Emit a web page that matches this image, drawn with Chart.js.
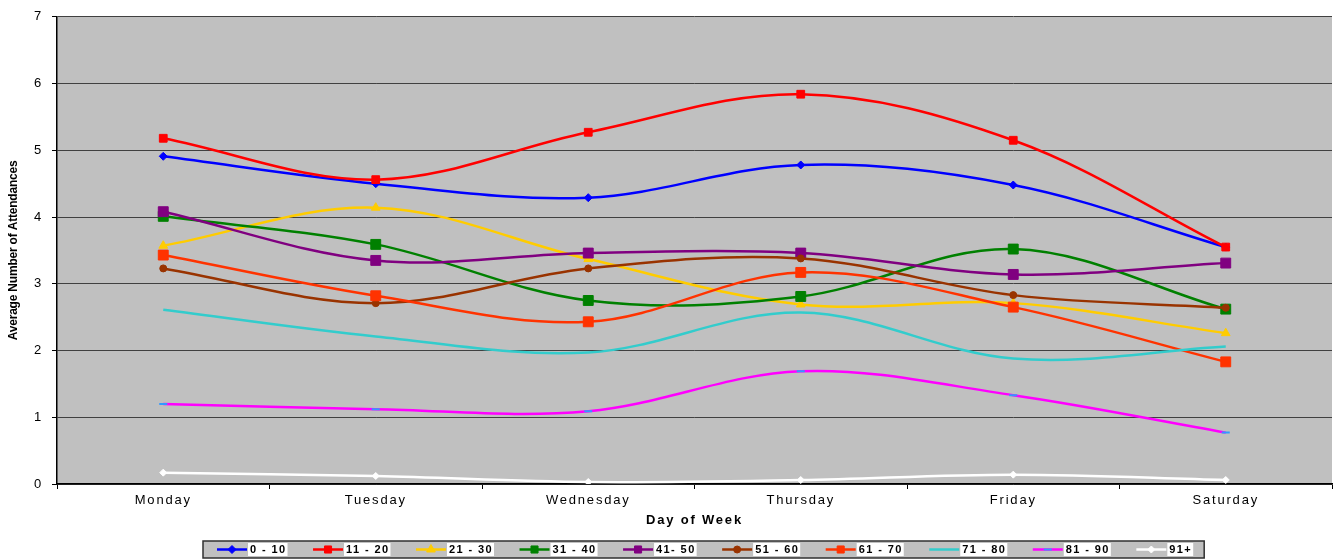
<!DOCTYPE html>
<html lang="en">
<head>
    <meta charset="UTF-8">
    <title>Average Number of Attendances by Day of Week</title>
    <script src="https://cdn.jsdelivr.net/npm/chart.js"></script>
    <style>
        body { margin: 0; background: #fff; }
        canvas { display: block; }
    </style>
</head>
<body>
    <canvas id="attendChart" width="1333" height="559"></canvas>

    <script>
        // Data
        const days = ['Monday', 'Tuesday', 'Wednesday', 'Thursday', 'Friday', 'Saturday'];
        const seriesLabels = ['0 - 10', '11 - 20', '21 - 30', '31 - 40', '41- 50', '51 - 60', '61 - 70', '71 - 80', '81 - 90', '91+'];

        const age0to10  = [4.91, 4.50, 4.29, 4.78, 4.48, 3.55];
        const age11to20 = [5.18, 4.56, 5.27, 5.84, 5.15, 3.55];
        const age21to30 = [3.57, 4.14, 3.37, 2.69, 2.71, 2.26];
        const age31to40 = [4.01, 3.59, 2.75, 2.81, 3.52, 2.62];
        const age41to50 = [4.08, 3.35, 3.46, 3.46, 3.14, 3.31];
        const age51to60 = [3.23, 2.71, 3.23, 3.38, 2.83, 2.64];
        const age61to70 = [3.43, 2.82, 2.43, 3.17, 2.65, 1.83];
        const age71to80 = [2.61, 2.21, 1.97, 2.57, 1.88, 2.06];
        const age81to90 = [1.20, 1.12, 1.09, 1.69, 1.33, 0.77];
        const age91plus = [0.17, 0.12, 0.03, 0.06, 0.14, 0.06];

        const yTicks = [0, 1, 2, 3, 4, 5, 6, 7];

        const seriesValues = [age0to10, age11to20, age21to30, age31to40, age41to50,
                              age51to60, age61to70, age71to80, age81to90, age91plus];

        // look of each series (line colour, marker)
        const looks = [
            { color: '#0000FF', point: 'rectRot',  radius: 4,   fill: '#0000FF', edge: '#0000FF' },
            { color: '#FF0000', point: 'rect',     radius: 5.5, fill: '#FF0000', edge: '#FF0000' },
            { color: '#FFCC00', point: 'triangle', radius: 5,   fill: '#FFCC00', edge: '#FFCC00' },
            { color: '#008000', point: 'rect',     radius: 7,   fill: '#008000', edge: '#008000' },
            { color: '#800080', point: 'rect',     radius: 7,   fill: '#800080', edge: '#800080' },
            { color: '#993300', point: 'circle',   radius: 3.5, fill: '#993300', edge: '#993300' },
            { color: '#FF3300', point: 'rect',     radius: 7,   fill: '#FF3300', edge: '#FF3300' },
            { color: '#33CCCC', point: 'circle',   radius: 0,   fill: '#33CCCC', edge: '#33CCCC' },
            { color: '#FF00FF', point: 'line',     radius: 4,   fill: '#3399FF', edge: '#3399FF' },
            { color: '#FFFFFF', point: 'rectRot',  radius: 3.5, fill: '#FFFFFF', edge: '#FFFFFF' }
        ];

        const FONT = "'Liberation Sans', Arial, sans-serif";

        const datasets = seriesLabels.map((label, i) => ({
            label: label,
            data: seriesValues[i],
            borderColor: looks[i].color,
            borderWidth: 2.5,
            backgroundColor: looks[i].fill,
            pointStyle: looks[i].point,
            pointRadius: looks[i].radius,
            pointHoverRadius: looks[i].radius,
            pointBackgroundColor: looks[i].fill,
            pointBorderColor: looks[i].edge,
            pointBorderWidth: looks[i].point === 'line' ? 2 : 1,
            tension: 0.35,
            fill: false,
            order: seriesLabels.length - i // later series on top, like Excel
        }));

        // grey plot area + letter spacing like the old Excel render
        const plotBackground = {
            id: 'plotBackground',
            beforeDraw(chart) {
                const { ctx, chartArea } = chart;
                ctx.save();
                ctx.fillStyle = '#C0C0C0';
                ctx.fillRect(chartArea.left, chartArea.top, chartArea.right - chartArea.left, chartArea.bottom - chartArea.top);
                ctx.restore();
                ctx.letterSpacing = '1.8px';
            }
        };

        // y title + boxed legend at the bottom
        const extras = {
            id: 'extras',
            afterDraw(chart) {
                const ctx = chart.ctx;
                const area = chart.chartArea;

                ctx.save();
                ctx.letterSpacing = '-0.2px';
                ctx.translate(14, (area.top + area.bottom) / 2);
                ctx.rotate(-Math.PI / 2);
                ctx.font = 'bold 12px ' + FONT;
                ctx.fillStyle = '#000';
                ctx.textAlign = 'center';
                ctx.textBaseline = 'middle';
                ctx.fillText('Average Number of Attendances', 0, 0);
                ctx.restore();

                // legend
                ctx.save();
                ctx.letterSpacing = '1.4px';
                ctx.font = 'bold 11px ' + FONT;
                const boxLeft = 203, boxTop = 541, boxH = 17;
                const midY = boxTop + boxH / 2;
                let x = 217;
                const items = chart.data.datasets.map(ds => {
                    const w = ctx.measureText(ds.label).width;
                    const it = { ds, x, w };
                    x += 30 + 3 + w + 26.5;
                    return it;
                });
                const boxRight = x - 26.5 + 12;

                ctx.fillStyle = '#C0C0C0';
                ctx.fillRect(boxLeft, boxTop, boxRight - boxLeft, boxH);
                ctx.strokeStyle = '#303030';
                ctx.lineWidth = 1.5;
                ctx.strokeRect(boxLeft, boxTop, boxRight - boxLeft, boxH);

                items.forEach(({ ds, x, w }) => {
                    ctx.strokeStyle = ds.borderColor;
                    ctx.lineWidth = 2.5;
                    ctx.beginPath();
                    ctx.moveTo(x, midY);
                    ctx.lineTo(x + 30, midY);
                    ctx.stroke();
                    if (ds.pointRadius > 0) {
                        ctx.fillStyle = ds.pointBackgroundColor;
                        ctx.strokeStyle = ds.pointBorderColor;
                        ctx.lineWidth = ds.pointBorderWidth;
                        Chart.helpers.drawPoint(ctx, {
                            pointStyle: ds.pointStyle,
                            radius: Math.min(ds.pointRadius, 5),
                            rotation: 0,
                            borderWidth: ds.pointBorderWidth
                        }, x + 15, midY);
                    }
                    ctx.fillStyle = '#FFFFFF';
                    ctx.fillRect(x + 31, boxTop + 2, w + 3, boxH - 4);
                    ctx.fillStyle = '#000';
                    ctx.textAlign = 'left';
                    ctx.textBaseline = 'middle';
                    ctx.fillText(ds.label, x + 33, midY + 0.5);
                });
                ctx.restore();
            }
        };

        const ctx = document.getElementById('attendChart').getContext('2d');
        const attendChart = new Chart(ctx, {
            type: 'line',
            data: { labels: days, datasets: datasets },
            plugins: [plotBackground, extras],
            options: {
                responsive: false,
                animation: false,
                layout: { autoPadding: false, padding: { top: 15, right: 1, left: 0, bottom: 0 } },
                plugins: {
                    legend: { display: false },
                    tooltip: { enabled: false }
                },
                scales: {
                    x: {
                        offset: true,
                        afterFit: s => { s.height = 75; s.paddingLeft = 0; s.paddingRight = 0; },
                        grid: {
                            display: true,
                            drawOnChartArea: false,
                            drawTicks: true,
                            tickLength: 5,
                            offset: true,
                            color: '#000'
                        },
                        border: { display: true, color: '#000', width: 1.5 },
                        ticks: {
                            color: '#000',
                            padding: 4,
                            maxRotation: 0,
                            autoSkip: false,
                            font: { family: FONT, size: 13 }
                        },
                        title: {
                            display: true,
                            text: 'Day of Week',
                            color: '#000',
                            padding: { top: 0, bottom: 31 },
                            font: { family: FONT, size: 13, weight: 'bold' }
                        }
                    },
                    y: {
                        min: yTicks[0],
                        max: yTicks[yTicks.length - 1],
                        afterFit: s => { s.width = 57; },
                        afterBuildTicks: s => { s.ticks = yTicks.map(v => ({ value: v })); },
                        grid: {
                            color: '#404040',
                            lineWidth: 1,
                            drawTicks: true,
                            tickLength: 5,
                            tickColor: '#000'
                        },
                        border: { display: true, color: '#000', width: 1.5 },
                        ticks: {
                            color: '#000',
                            padding: 9,
                            font: { family: FONT, size: 13 }
                        }
                    }
                }
            }
        });
    </script>
</body>
</html>
